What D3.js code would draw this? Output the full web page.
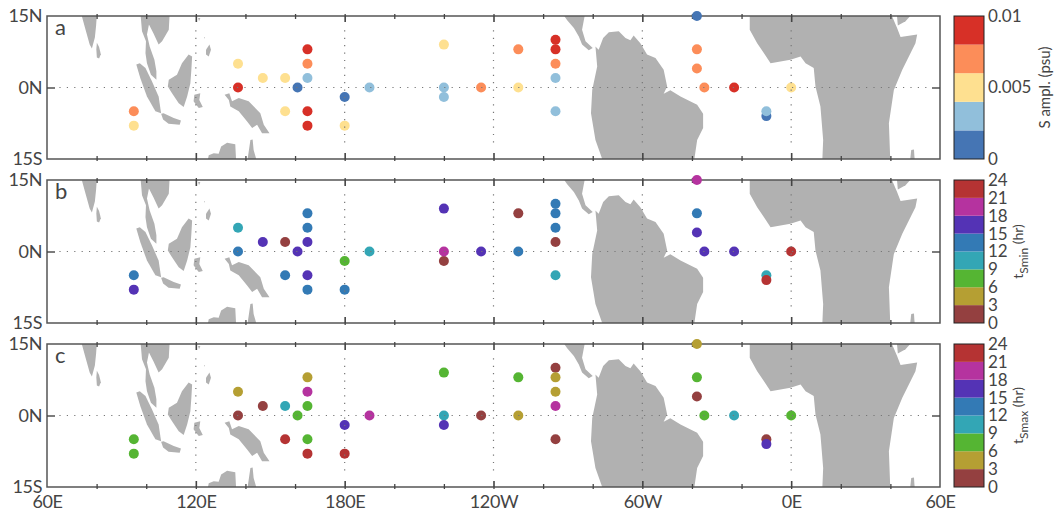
<!DOCTYPE html>
<html>
<head>
<meta charset="utf-8">
<script src="https://cdn.jsdelivr.net/npm/d3@7"></script>
<style>
  html, body { margin: 0; background: #fff; }
  svg text { font-family: Lato, "Open Sans", sans-serif; fill: #444; }
</style>
</head>
<body>
<div id="chart"></div>
<script>
// moorings
const stationLon = [95, 95, 137, 137, 147, 156, 156, 161, 165, 165, 165, 165, 165, 180, 180, 190,
  220, 220, 220, 235, 250, 250, 265, 265, 265, 265, 265, 322, 322, 322, 325, 337, 350, 350, 360];
const stationLat = [-5, -8, 5, 0, 2, 2, -5, 0, 8, 5, 2, -5, -8, -2, -8, 0,
  9, 0, -2, 0, 8, 0, 10, 8, 5, 2, -5, 15, 8, 4, 0, 0, -5, -6, 0];

// values (colour classes, so class middles)
const sAmpl = [.007, .005, .005, .009, .005, .005, .005, .001, .009, .007, .003, .009, .009, .001, .005, .003,
  .005, .003, .003, .007, .007, .005, .009, .009, .007, .003, .003, .001, .007, .007, .007, .009, .003, .001, .005];
const tSmin = [13.5, 16.5, 10.5, 13.5, 16.5, 1.5, 13.5, 16.5, 13.5, 13.5, 16.5, 16.5, 13.5, 7.5, 13.5, 10.5,
  16.5, 19.5, 1.5, 16.5, 1.5, 13.5, 13.5, 13.5, 13.5, 1.5, 10.5, 19.5, 13.5, 16.5, 16.5, 16.5, 10.5, 22.5, 22.5];
const tSmax = [7.5, 7.5, 4.5, 1.5, 1.5, 10.5, 22.5, 7.5, 4.5, 19.5, 7.5, 7.5, 22.5, 16.5, 22.5, 19.5,
  7.5, 10.5, 16.5, 1.5, 7.5, 4.5, 1.5, 4.5, 4.5, 19.5, 1.5, 4.5, 7.5, 1.5, 7.5, 10.5, 1.5, 16.5, 7.5];

const amplColors = ["#4575b4", "#91bfdb", "#fee090", "#fc8d59", "#d73027"];
const hourColors = ["#944040", "#b59f33", "#55b533", "#33a6b5", "#337ab5", "#5433b5", "#b5339f", "#b53333"];
const amplTicks = [0, 0.005, 0.01];
const hourTicks = [0, 3, 6, 9, 12, 15, 18, 21, 24];

const lonMajor = [60, 120, 180, 240, 300, 360, 420];
const lonMinor = [80, 100, 140, 160, 200, 220, 260, 280, 320, 340, 380, 400];
const lonLabels = ["60E", "120E", "180E", "120W", "60W", "0E", "60E"];
const latTicks = [-15, 0, 15];
const latLabels = ["15S", "0N", "15N"];

// coastlines, traced by hand, [lon, lat] with lon running on past 360
const land = [
  [[73.5,16],[80.2,16],[79.8,13],[79.3,10.5],[78.1,8.2],[77.2,9],[75.6,12],[74.3,14.5]],
  [[80.1,9.4],[81,8.5],[81.7,7],[81,6.1],[80.1,6.3],[79.9,8]],
  [[97.6,16],[98.3,11.8],[99.9,9.7],[99.7,7.2],[100.3,5.1],[101.9,2.7],[104.1,1.6],[104.1,3.4],[103.3,5.8],[101.4,8.6],[100.3,11.1],[101.1,13.2],[102.9,11.4],[105,9],[106.4,9.7],[109.1,12.1],[109.5,16]],
  [[96,4.8],[97.4,5.1],[99.7,4.1],[102.3,1.3],[105,-1.9],[106,-5.4],[103.7,-5],[100.3,-1.9],[97.6,2]],
  [[106,-5.5],[107,-5.4],[111.1,-6.4],[114,-6.9],[113.5,-7.8],[109,-7.6],[106.8,-6.7]],
  [[109.1,1.6],[112.4,2.7],[114.4,5.1],[117.1,6.9],[118.5,6.5],[118.2,3.7],[117.8,0.9],[116.5,-1.9],[115.1,-4.1],[113.1,-3.3],[110.4,-1.2],[108.7,0.2]],
  [[119.4,-1.5],[121.8,-1.2],[121.4,-2.6],[122.8,-4.1],[121.2,-4.3],[120.1,-3.6],[119.1,-2.9]],
  [[124.1,7.9],[125.5,9],[126.1,7.9],[125.2,6.5],[124.1,6.9]],
  [[120.9,14.6],[121.8,14.6],[121.3,13.9]],
  [[123.4,10.6],[123.7,10.6],[123.5,10.2]],
  [[131.6,-1.5],[133.5,-1.2],[134.6,-2.9],[137.3,-2.2],[141.3,-2.9],[146,-5.4],[147.4,-7.8],[149.7,-9.6],[146.7,-9.6],[144.7,-7.8],[142.7,-8.5],[140.6,-7.1],[137.3,-5],[133.9,-4],[133.3,-2.6]],
  [[124.5,-16],[125.2,-14.2],[127.2,-13.8],[129.2,-13.9],[130.2,-12.4],[132.6,-11.6],[135.9,-11.9],[136.3,-16]],
  [[140.6,-16],[142,-11],[142.9,-10.9],[143.3,-13.1],[144.9,-16]],
  [[267.2,16],[269.7,14.1],[272.4,12.5],[274.4,10.7],[275.7,9],[278.4,7.8],[280,8.3],[277.1,9.7],[275.7,12.1],[277.1,16]],
  [[281.1,8.6],[282.4,7.9],[284.2,10.4],[286.5,11.6],[290.5,11.8],[293.2,10.4],[295.2,9.9],[296.5,10.9],[299.2,9.3],[301.9,6.9],[305.3,6.2],[308.6,3.7],[310,0.2],[308.6,-1.3],[311.3,-0.6],[315.4,-1.9],[322.1,-3.6],[324.5,-5.5],[324.5,-8.5],[322.1,-11],[320.7,-16],[284.5,-16],[281.1,-11],[279.3,-5.4],[279.8,-0.5],[281.8,4.4]],
  [[343.3,16],[343.3,12.1],[346.3,9.3],[351.7,5.1],[359.7,5.8],[363.8,6.5],[365.8,5.1],[369.1,4.1],[369.8,0.2],[371.8,-4],[372.9,-11],[372.5,-16],[400,-16],[399.4,-7.5],[401.4,-0.5],[404.8,3.7],[410.1,9.3],[410.8,11.1],[404.1,10.6],[402.7,12.5],[399.8,16]],
  [[402.5,16],[409.7,16],[406.1,13.9],[403,13]],
  [[407.8,-16],[408.4,-13.1],[409.5,-13],[409.9,-16]]
];

const panels = [
  { key: "a", top: 16, values: sAmpl, colors: amplColors, domain: [0, 0.01], ticks: amplTicks },
  { key: "b", top: 180, values: tSmin, colors: hourColors, domain: [0, 24], ticks: hourTicks, sub: "Smin" },
  { key: "c", top: 344, values: tSmax, colors: hourColors, domain: [0, 24], ticks: hourTicks, sub: "Smax" }
];

const width = 1062, height = 511;
const mapLeft = 47, mapRight = 940, panelHeight = 143;
const barLeft = 954, barWidth = 30;

const svg = d3.select("#chart").append("svg")
  .attr("width", width).attr("height", height);

const x = d3.scaleLinear().domain([60, 420]).range([mapLeft, mapRight]);

svg.append("defs").append("clipPath").attr("id", "map-clip")
  .append("rect")
  .attr("x", mapLeft).attr("y", 0)
  .attr("width", mapRight - mapLeft).attr("height", panelHeight);

panels.forEach(function (p) {
  const y = d3.scaleLinear().domain([15, -15]).range([0, panelHeight]);
  const color = d3.scaleQuantize().domain(p.domain).range(p.colors);
  const line = d3.line().x((d) => x(d[0])).y((d) => y(d[1]));

  const g = svg.append("g").attr("transform", "translate(0," + p.top + ")");

  // land
  g.append("g").attr("clip-path", "url(#map-clip)")
    .selectAll("path").data(land).enter().append("path")
    .attr("d", (d) => line(d) + "Z")
    .attr("fill", "#b1b1b1");

  // frame and ticks
  g.append("rect")
    .attr("x", mapLeft).attr("y", 0)
    .attr("width", mapRight - mapLeft).attr("height", panelHeight)
    .attr("fill", "none").attr("stroke", "#555").attr("stroke-width", 1.5);

  const tickAxis = function (axis, dy, values, size) {
    const a = g.append("g").attr("transform", "translate(0," + dy + ")")
      .call(axis(x).tickValues(values).tickSize(size).tickFormat(""));
    a.select(".domain").remove();
    a.selectAll("line").attr("stroke", "#444").attr("stroke-width", size > 4 ? 1.6 : 1.3);
  };
  tickAxis(d3.axisBottom, 0, lonMinor, 3);
  tickAxis(d3.axisTop, 0, lonMinor, 2);
  tickAxis(d3.axisTop, panelHeight, lonMinor, 3);
  tickAxis(d3.axisBottom, panelHeight, lonMinor, 2);
  tickAxis(d3.axisBottom, 0, lonMajor.slice(1, -1), 6);
  tickAxis(d3.axisTop, 0, lonMajor.slice(1, -1), 2);
  tickAxis(d3.axisTop, panelHeight, lonMajor.slice(1, -1), 6);
  tickAxis(d3.axisBottom, panelHeight, lonMajor.slice(1, -1), 2);

  const yLeft = g.append("g").attr("transform", "translate(" + mapLeft + ",0)")
    .call(d3.axisRight(y).tickValues([0]).tickSize(8).tickFormat(""));
  yLeft.select(".domain").remove();
  yLeft.selectAll("line").attr("stroke", "#444").attr("stroke-width", 1.4);
  const yRight = g.append("g").attr("transform", "translate(" + mapRight + ",0)")
    .call(d3.axisLeft(y).tickValues([0]).tickSize(8).tickFormat(""));
  yRight.select(".domain").remove();
  yRight.selectAll("line").attr("stroke", "#444").attr("stroke-width", 1.4);

  const yLabels = g.append("g").attr("transform", "translate(" + (mapLeft - 5) + ",0)")
    .call(d3.axisLeft(y).tickValues(latTicks).tickSize(0)
      .tickFormat((d, i) => latLabels[i]));
  yLabels.select(".domain").remove();
  yLabels.selectAll("text").attr("x", 0).style("font-size", "18px").style("letter-spacing", "-0.4px");

  // stations, smaller values first so the larger ones sit on top
  const stations = p.values.map((v, i) => ({ lon: stationLon[i], lat: stationLat[i], value: v }))
    .sort((a, b) => d3.ascending(a.value, b.value));
  g.append("g").selectAll("circle").data(stations).enter().append("circle")
    .attr("cx", (d) => x(d.lon))
    .attr("cy", (d) => y(d.lat))
    .attr("r", 5)
    .attr("fill", (d) => color(d.value));

  // dotted grid
  const dotted = function (a, b) {
    g.append("path").attr("d", line([a, b]))
      .attr("fill", "none").attr("stroke", "#777").attr("stroke-width", 1.2)
      .attr("stroke-dasharray", "1.2,6.2");
  };
  dotted([65, 0], [416, 0]);
  lonMajor.slice(1, -1).forEach((lon) => dotted([lon, 12], [lon, -12]));

  g.append("text").attr("x", 55).attr("y", 19)
    .style("font-size", "22px").text(p.key);

  // colour bar
  const barY = d3.scaleLinear().domain(p.domain).range([panelHeight, 0]);
  const bar = g.append("g");
  bar.selectAll("rect").data(p.colors).enter().append("rect")
    .attr("x", barLeft).attr("width", barWidth)
    .attr("y", (d) => barY(color.invertExtent(d)[1]))
    .attr("height", (d) => barY(color.invertExtent(d)[0]) - barY(color.invertExtent(d)[1]))
    .attr("fill", (d) => d);
  bar.append("rect")
    .attr("x", barLeft).attr("width", barWidth).attr("height", panelHeight)
    .attr("fill", "none").attr("stroke", "#222").attr("stroke-width", 1);

  const barAxis = g.append("g").attr("transform", "translate(" + (barLeft + barWidth) + ",0)")
    .call(d3.axisRight(barY).tickValues(p.ticks).tickSize(0).tickPadding(4)
      .tickFormat((d) => String(d)));
  barAxis.select(".domain").remove();
  barAxis.selectAll("text").style("font-size", "17px");

  // colour bar title
  if (p.key === "a") {
    g.append("text")
      .attr("transform", "translate(1050," + panelHeight / 2 + ") rotate(-90)")
      .attr("text-anchor", "middle").style("font-size", "15px")
      .text("S ampl. (psu)");
  } else {
    const t = g.append("text")
      .attr("transform", "translate(1023," + panelHeight / 2 + ") rotate(-90)")
      .attr("text-anchor", "middle").style("font-size", "14px");
    t.append("tspan").text("t");
    t.append("tspan").attr("dy", 5).style("font-size", "12px").text(p.sub);
    t.append("tspan").attr("dy", -5).text(" (hr)");
  }
});

// longitude labels under the last panel
const xLabels = svg.append("g")
  .attr("transform", "translate(0," + (panels[2].top + panelHeight + 5) + ")")
  .call(d3.axisBottom(x).tickValues(lonMajor).tickSize(0)
    .tickFormat((d, i) => lonLabels[i]));
xLabels.select(".domain").remove();
xLabels.selectAll("text").style("font-size", "18px").style("letter-spacing", "-0.4px");
</script>
</body>
</html>
